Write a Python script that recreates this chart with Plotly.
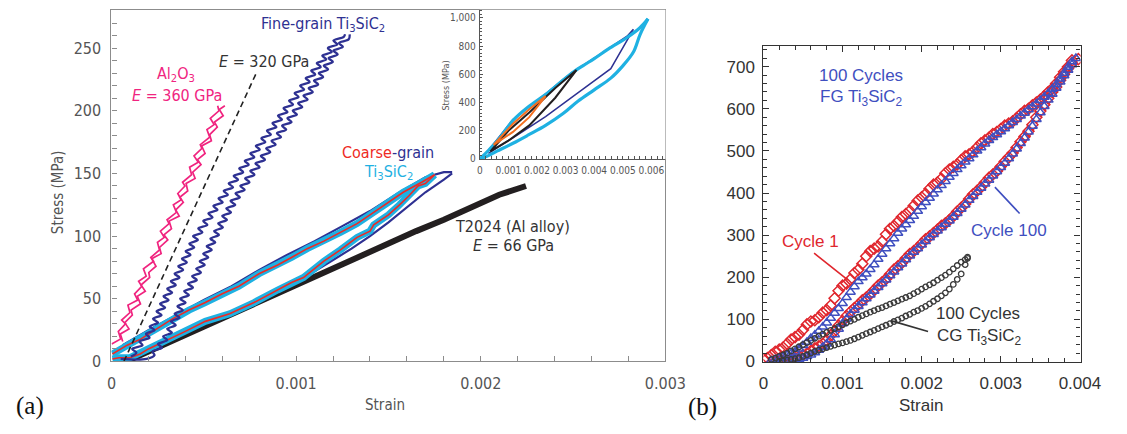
import plotly.graph_objects as go

W, H = 1127, 434


def px(x):
    return x / W


def py(y):
    return 1 - y / H


def us(v):
    return [a * 1e-6 for a in v]

# ======================= DATA (strain in microstrain, stress in MPa) =======================
# ---- Panel (a) main ----
al2o3_load_ustrain = [1, 50, 37, 76, 55, 100, 89, 142, 125, 164, 147, 188, 173, 228, 213, 260, 249, 286, 265, 312,
                      301, 352, 335, 378, 359, 398, 385, 434, 423, 470, 447, 490, 481, 532, 517, 556, 535, 582, 575]
al2o3_load_stress = [14, 18, 24, 30, 33, 39, 45, 49, 54, 60, 64, 68, 74, 80, 83, 89, 95, 99, 104, 110,
                     113, 119, 125, 129, 134, 140, 143, 149, 155, 159, 164, 170, 173, 179, 185, 189, 194, 200, 204]
al2o3_unload_ustrain = [61, 48, 95, 72, 113, 106, 157, 140, 183, 160, 207, 202, 241, 218, 269, 260, 305, 284, 325, 312,
                        367, 348, 389, 370, 413, 404, 453, 440, 485, 466, 507, 488, 541, 532, 573, 558, 605, 584, 614]
al2o3_unload_stress = [16, 22, 26, 31, 37, 41, 46, 52, 56, 61, 67, 71, 76, 82, 86, 91, 97, 101, 106, 112,
                       116, 121, 127, 131, 136, 142, 146, 151, 157, 161, 166, 172, 176, 181, 187, 191, 196, 201, 204]

e320_ustrain = [67, 790]
e320_stress = [0, 232]

fg_left_ustrain = [105, 135, 112, 168, 152, 206, 187, 233, 207, 252, 225, 271, 244, 290, 263, 309, 282, 328, 302, 348,
                   322, 368, 342, 388, 362, 408, 382, 428, 402, 448, 422, 468, 442, 492, 470, 519, 497, 547, 525, 574,
                   552, 602, 580, 630, 608, 658, 635, 685, 662, 713, 692, 743, 722, 773, 752, 803, 782, 833, 812, 863,
                   842, 893, 872, 923, 902, 953, 932, 983, 962, 1013, 992, 1043, 1022, 1073, 1052, 1103, 1082, 1133, 1112, 1163,
                   1142, 1193, 1172, 1223, 1202, 1258, 1265]
fg_left_stress = [4, 7, 10, 13, 16, 19, 22, 25, 28, 31, 34, 37, 40, 43, 46, 49, 52, 55, 58, 61,
                  64, 67, 70, 73, 76, 79, 82, 85, 88, 91, 94, 97, 100, 103, 106, 109, 112, 115, 118, 121,
                  124, 127, 130, 133, 136, 139, 142, 145, 148, 151, 154, 157, 160, 163, 166, 169, 172, 175, 178, 181,
                  184, 187, 190, 193, 196, 199, 202, 205, 208, 211, 214, 217, 220, 223, 226, 229, 232, 235, 238, 241,
                  244, 247, 250, 253, 256, 259, 261]
fg_right_ustrain = [50, 190, 233, 222, 273, 252, 302, 280, 327, 302, 348, 322, 368, 342, 386, 357, 401, 372, 419, 394,
                    441, 415, 462, 437, 484, 459, 505, 478, 524, 497, 543, 516, 562, 536, 582, 556, 603, 578, 625, 600,
                    647, 622, 670, 645, 695, 672, 721, 698, 747, 724, 774, 752, 802, 780, 831, 809, 860, 838, 889, 867,
                    918, 896, 946, 924, 975, 953, 1004, 982, 1033, 1011, 1062, 1040, 1090, 1068, 1119, 1097, 1146, 1123, 1173, 1150,
                    1199, 1176, 1225, 1202, 1253, 1232, 1285, 1290]
fg_right_stress = [2, 2, 5, 8, 11, 14, 17, 20, 23, 26, 29, 32, 35, 38, 41, 44, 47, 50, 53, 56,
                   59, 62, 65, 68, 71, 74, 77, 80, 83, 86, 89, 92, 95, 98, 101, 104, 107, 110, 113, 116,
                   119, 122, 125, 128, 131, 134, 137, 140, 143, 146, 149, 152, 155, 158, 161, 164, 167, 170, 173, 176,
                   179, 182, 185, 188, 191, 194, 197, 200, 203, 206, 209, 212, 215, 218, 221, 224, 227, 230, 233, 236,
                   239, 242, 245, 248, 251, 254, 257, 261]

cg_red_up_ustrain = [5, 85, 160, 243, 330, 420, 508, 600, 690, 799, 900, 975, 1060, 1150, 1240, 1330, 1420, 1500, 1580, 1680, 1750]
cg_red_up_stress = [6, 13, 18, 26, 34, 41, 47, 54, 60, 70, 77, 83, 90, 96, 103, 110, 119, 127, 135, 143, 149]
cg_red_down_ustrain = [1750, 1700, 1660, 1610, 1560, 1500, 1420, 1400, 1330, 1240, 1150, 1040, 975, 900, 772, 640, 508, 400, 300, 200, 155, 100, 40, 5]
cg_red_down_stress = [149, 142, 140, 132, 125, 117, 109, 104, 99, 89, 80, 67, 63, 57, 47, 38, 32, 24, 17, 10, 6, 3, 3, 2]
cg_navy_up_ustrain = [60, 200, 350, 500, 650, 800, 950, 1100, 1250, 1400, 1550, 1700, 1800, 1845]
cg_navy_up_stress = [13, 25, 37, 49, 60, 73, 85, 96, 108, 120, 134, 147, 151, 151]
cg_navy_down_ustrain = [1845, 1800, 1700, 1600, 1500, 1400, 1300, 1200, 1100, 1000]
cg_navy_down_stress = [150, 145, 135, 123, 111, 100, 90, 81, 72, 63]

t2024_ustrain = [80, 200, 330, 450, 600, 750, 900, 1050, 1200, 1350, 1500, 1650, 1800, 1950, 2100, 2245]
t2024_stress = [0, 8, 17, 25, 35, 45, 54, 64, 74, 84, 94, 104, 113, 123, 133, 140]

# ---- Panel (a) inset ----
in_cyan_up_ustrain = [0, 300, 700, 1160, 1700, 2300, 2800, 3210, 3600, 4000, 4500, 5150, 5600, 5880]
in_cyan_up_stress = [0, 60, 150, 273, 370, 457, 540, 607, 660, 711, 780, 861, 930, 993]
in_cyan_down_ustrain = [5880, 5600, 5370, 5000, 4580, 4000, 3440, 2900, 2300, 1700, 1160, 600, 200, 0]
in_cyan_down_stress = [993, 880, 758, 660, 573, 490, 411, 320, 238, 170, 111, 55, 15, 0]
in_navy_ustrain = [300, 1160, 2300, 3210, 4000, 5150, 5370, 4580, 3440, 2300, 1160, 300]
in_navy_stress = [60, 280, 462, 612, 715, 870, 919, 640, 470, 300, 150, 40]
in_black_ustrain = [370, 1000, 1730, 2640, 3380, 2640, 1730, 1000, 370]
in_black_stress = [53, 200, 330, 503, 630, 434, 238, 130, 53]
in_orange_ustrain = [480, 1160, 1730, 2300, 1730, 1160, 480]
in_orange_stress = [100, 249, 353, 446, 296, 192, 100]

# ---- Panel (b): sampled every 50 microstrain ----
b_red_up_ustrain = list(range(0, 3901, 50))
b_red_up_stress = [5, 8, 15, 23, 28, 33, 42, 52, 58, 64, 75, 88, 95, 98, 105, 116, 122, 133, 150, 168,
                   180, 185, 195, 210, 218, 232, 250, 262, 268, 273, 285, 302, 315, 322, 332, 343, 350, 358, 370, 382,
                   390, 398, 410, 420, 425, 434, 447, 456, 462, 468, 478, 487, 492, 498, 508, 518, 525, 531, 540, 545,
                   552, 560, 565, 570, 578, 587, 595, 600, 608, 615, 622, 630, 640, 648, 660, 675, 688, 700, 715]
b_red_down_ustrain = list(range(200, 3901, 50)) + [3980]
b_red_down_stress = [0, 2, 3, 5, 8, 12, 15, 19, 25, 31, 36, 42, 50, 62, 72, 85, 96, 108, 118, 127,
                     135, 145, 152, 160, 170, 180, 188, 196, 207, 218, 226, 234, 245, 255, 262, 270, 280, 290, 297, 305,
                     313, 322, 328, 336, 345, 356, 365, 374, 386, 397, 405, 414, 425, 436, 444, 452, 463, 475, 485, 495,
                     508, 522, 534, 547, 562, 580, 595, 610, 625, 640, 652, 668, 682, 696, 708, 718]
b_blue_up_ustrain = list(range(100, 3901, 50)) + [3950]
b_blue_up_stress = [2, 5, 8, 11, 15, 19, 23, 30, 38, 46, 55, 63, 72, 82, 92, 103, 115, 126, 138, 152,
                    165, 178, 190, 199, 208, 219, 230, 243, 255, 268, 280, 292, 305, 315, 325, 335, 345, 357, 368, 378,
                    388, 398, 408, 418, 428, 438, 447, 456, 465, 474, 482, 491, 500, 508, 517, 525, 532, 539, 546, 553,
                    560, 568, 575, 583, 590, 598, 605, 612, 620, 628, 637, 647, 658, 671, 685, 699, 712, 720]
b_blue_down_ustrain = list(range(300, 3901, 50))
b_blue_down_stress = [0, 1, 3, 5, 8, 12, 16, 21, 27, 34, 42, 52, 64, 77, 90, 101, 112, 122, 131, 140,
                      149, 158, 167, 176, 185, 194, 204, 213, 223, 232, 242, 251, 260, 268, 277, 285, 294, 302, 310, 318,
                      326, 334, 343, 352, 362, 372, 383, 392, 402, 412, 422, 431, 441, 451, 461, 471, 482, 493, 505, 518,
                      531, 545, 559, 575, 591, 606, 621, 635, 649, 664, 679, 692, 705]
b_cg_up_ustrain = list(range(100, 2501, 50)) + [2550, 2580]
b_cg_up_stress = [5, 8, 12, 16, 20, 25, 30, 35, 40, 45, 50, 55, 60, 65, 69, 74, 78, 83, 87, 92,
                  96, 100, 105, 109, 113, 117, 121, 125, 128, 132, 136, 140, 144, 148, 152, 156, 161, 166, 172, 177,
                  182, 187, 193, 199, 205, 212, 220, 228, 236, 242, 248]
b_cg_down_ustrain = list(range(200, 2501, 50)) + [2550, 2580]
b_cg_down_stress = [0, 1, 3, 5, 7, 9, 12, 16, 20, 24, 27, 30, 33, 36, 39, 42, 44, 47, 50, 54,
                    58, 62, 66, 70, 74, 78, 82, 86, 90, 95, 99, 103, 108, 112, 117, 121, 126, 131, 137, 143,
                    149, 156, 163, 172, 183, 195, 208, 230, 245]

# ======================= STYLE =======================
COND = "Liberation Sans Narrow, DejaVu Sans Condensed, Liberation Sans, Arial, sans-serif"
SANS = "Liberation Sans, Arial, Helvetica, sans-serif"
SERIF = "Liberation Serif, Times New Roman, serif"
PINK = "#f0247f"
NAVY = "#2e3192"
CYAN = "#1fb1e2"
RED = "#ee2a24"
BLK = "#231f20"
ORANGE = "#f36f21"
B_BLUE = "#3f4fc0"
B_RED = "#e0262d"
B_BLK = "#3a3a3a"

fig = go.Figure()


def line(xs, ys, color, width, ax="x", ay="y", dash=None, shape="linear"):
    fig.add_trace(go.Scatter(x=us(xs), y=ys, xaxis=ax, yaxis=ay, mode="lines",
                             line=dict(color=color, width=width, dash=dash, shape=shape),
                             hoverinfo="skip", showlegend=False))


def marks(xs, ys, color, symbol, size, lw=1.4):
    fig.add_trace(go.Scatter(x=us(xs), y=ys, xaxis="x3", yaxis="y3", mode="markers",
                             marker=dict(symbol=symbol, size=size, color=color,
                                         line=dict(color=color, width=lw)),
                             hoverinfo="skip", showlegend=False))

# ---- panel (a) main traces ----
line(t2024_ustrain, t2024_stress, BLK, 6)
line(cg_navy_up_ustrain, cg_navy_up_stress, NAVY, 2.2)
line(cg_navy_down_ustrain, cg_navy_down_stress, NAVY, 2.2)
line(cg_red_up_ustrain, cg_red_up_stress, CYAN, 7)
line(cg_red_down_ustrain, cg_red_down_stress, CYAN, 7)
line(cg_red_up_ustrain, cg_red_up_stress, RED, 1.6)
line(cg_red_down_ustrain, cg_red_down_stress, RED, 1.6)
line(fg_left_ustrain, fg_left_stress, NAVY, 2.3, shape="spline")
line(fg_right_ustrain, fg_right_stress, NAVY, 2.3, shape="spline")
line(al2o3_load_ustrain, al2o3_load_stress, PINK, 1.7)
line(al2o3_unload_ustrain, al2o3_unload_stress, PINK, 1.7)
line(e320_ustrain, e320_stress, "#222222", 1.6, dash="6px,4px")

# ---- inset traces ----
line(in_navy_ustrain, in_navy_stress, NAVY, 1.5, "x2", "y2")
line(in_cyan_up_ustrain, in_cyan_up_stress, CYAN, 3.2, "x2", "y2", shape="spline")
line(in_cyan_down_ustrain, in_cyan_down_stress, CYAN, 3.2, "x2", "y2", shape="spline")
line(in_black_ustrain, in_black_stress, BLK, 2, "x2", "y2")
line(in_orange_ustrain, in_orange_stress, ORANGE, 2, "x2", "y2")

# ---- panel (b) traces ----
marks(b_red_up_ustrain, b_red_up_stress, B_RED, "diamond-open", 8.5, 1.5)
marks(b_red_down_ustrain, b_red_down_stress, B_RED, "diamond-open", 8.5, 1.5)
marks(b_blue_up_ustrain, b_blue_up_stress, B_BLUE, "triangle-up-open", 8.5, 1.5)
marks(b_blue_down_ustrain, b_blue_down_stress, B_BLUE, "triangle-up-open", 8.5, 1.5)
marks(b_cg_up_ustrain, b_cg_up_stress, B_BLK, "circle-open", 5.5, 1.3)
marks(b_cg_down_ustrain, b_cg_down_stress, B_BLK, "circle-open", 5.5, 1.3)

# ======================= AXES =======================
GREY = "#8c8c8c"
tf_a = dict(family=COND, size=16, color="#555555")
fig.update_layout(
    width=W, height=H, margin=dict(l=0, r=0, t=0, b=0),
    paper_bgcolor="white", plot_bgcolor="white", showlegend=False,
    xaxis=dict(domain=[px(109), px(676)], range=[0, 0.003], anchor="y",
               showline=True, linecolor=GREY, linewidth=1.2, mirror=True,
               ticks="inside", ticklen=5, tickcolor=GREY, dtick=0.001, tick0=0,
               minor=dict(dtick=0.0002, ticks="inside", ticklen=5, tickcolor=GREY),
               showgrid=False, zeroline=False, tickfont=tf_a, ticklabelstandoff=7),
    yaxis=dict(domain=[py(370), py(10)], range=[0, 280.6], anchor="x",
               showline=True, linecolor=GREY, linewidth=1.2, mirror=True,
               ticks="inside", ticklen=5, tickcolor=GREY, dtick=50, tick0=0,
               minor=dict(dtick=10, ticks="inside", ticklen=5, tickcolor=GREY),
               showgrid=False, zeroline=False, tickfont=tf_a, ticklabelstandoff=6),
    xaxis2=dict(domain=[px(486), px(676)], range=[0, 0.006489], anchor="y2",
                showline=True, linecolor="#555555", linewidth=1, mirror=False,
                ticks="inside", ticklen=3, tickcolor="#555555", dtick=0.001, tick0=0,
                minor=dict(dtick=0.0002, ticks="inside", ticklen=3, tickcolor="#555555"),
                showgrid=False, zeroline=False,
                tickfont=dict(family=COND, size=10, color="#555555"), ticklabelstandoff=2),
    yaxis2=dict(domain=[py(162.7), py(10)], range=[0, 1057.5], anchor="x2",
                showline=True, linecolor="#555555", linewidth=1, mirror=False,
                ticks="inside", ticklen=3, tickcolor="#555555", dtick=200, tick0=0, tickformat=",",
                minor=dict(dtick=25, ticks="inside", ticklen=2, tickcolor="#555555"),
                showgrid=False, zeroline=False,
                tickfont=dict(family=COND, size=10, color="#555555"), ticklabelstandoff=1),
    xaxis3=dict(domain=[px(776.3), px(1101)], range=[0, 0.004009], anchor="y3",
                showline=True, linecolor="#333333", linewidth=1.2, mirror="allticks",
                ticks="inside", ticklen=6, tickcolor="#333333", dtick=0.001, tick0=0,
                minor=dict(dtick=0.0002, ticks="inside", ticklen=4, tickcolor="#333333"),
                showgrid=False, zeroline=False,
                tickfont=dict(family=SANS, size=17, color="#333333"), ticklabelstandoff=5),
    yaxis3=dict(domain=[py(371), py(47)], range=[-2.3, 749.4], anchor="x3",
                showline=True, linecolor="#333333", linewidth=1.2, mirror="allticks",
                ticks="inside", ticklen=6, tickcolor="#333333", dtick=100, tick0=0,
                minor=dict(dtick=20, ticks="inside", ticklen=4, tickcolor="#333333"),
                showgrid=False, zeroline=False,
                tickfont=dict(family=SANS, size=17, color="#333333"), ticklabelstandoff=4),
)

fig.add_shape(type="rect", xref="paper", yref="paper", x0=px(486), x1=px(676), y0=py(162.7), y1=py(10),
              fillcolor="white", line=dict(width=0), layer="below")

# ======================= TEXT =======================
ann = []


def text(x, y, s, size, color, family=COND, angle=0):
    ann.append(dict(x=px(x), y=py(y), xref="paper", yref="paper", text=s, showarrow=False,
                    font=dict(family=family, size=size, color=color), xanchor="center", yanchor="middle",
                    textangle=angle))


text(326, 25, "Fine-grain Ti<sub>3</sub>SiC<sub>2</sub>", 16, NAVY)
text(265, 63, "<i>E</i> = 320 GPa", 16, "#333333")
text(175, 76, "Al<sub>2</sub>O<sub>3</sub>", 16, PINK)
text(176, 98, "<i>E</i> = 360 GPa", 16, PINK)
text(392, 156, f"<span style='color:{RED}'>Coarse</span>-grain", 16, NAVY)
text(393, 177, "Ti<sub>3</sub>SiC<sub>2</sub>", 16, CYAN)
text(519, 232, "T2024 (Al alloy)", 16, "#333333")
text(520, 251, "<i>E</i> = 66 GPa", 16, "#333333")
text(55, 197, "Stress (MPa)", 15, "#555555", angle=-90)
text(389, 415, "Strain", 15, "#555555")
text(451, 88, "Stress (MPa)", 9, "#555555", angle=-90)
text(26, 416, "(a)", 25, "#111111", family=SERIF)
text(714, 417, "(b)", 25, "#111111", family=SERIF)

text(876, 77, "100 Cycles", 17, B_BLUE, family=SANS)
text(877, 100, "FG Ti<sub>3</sub>SiC<sub>2</sub>", 17, B_BLUE, family=SANS)
text(825, 247, "Cycle 1", 17, B_RED, family=SANS)
text(1028, 236, "Cycle 100", 17, B_BLUE, family=SANS)
text(996, 321, "100 Cycles", 17, "#333333", family=SANS)
text(997, 345, "CG Ti<sub>3</sub>SiC<sub>2</sub>", 17, "#333333", family=SANS)
text(938, 415, "Strain", 17, "#333333", family=SANS)

for (x0, y0, x1, y1, c) in [(0.000622, 260, 0.00107, 193, B_RED),
                            (0.003256, 348, 0.002926, 414, B_BLUE),
                            (0.0021, 70, 0.00161, 97, "#333333")]:
    ann.append(dict(x=x1, y=y1, xref="x3", yref="y3", ax=x0, ay=y0, axref="x3", ayref="y3",
                    showarrow=True, arrowhead=0, arrowwidth=1.6, arrowcolor=c, text=""))

fig.update_layout(annotations=ann)
fig.write_html("out.html")
